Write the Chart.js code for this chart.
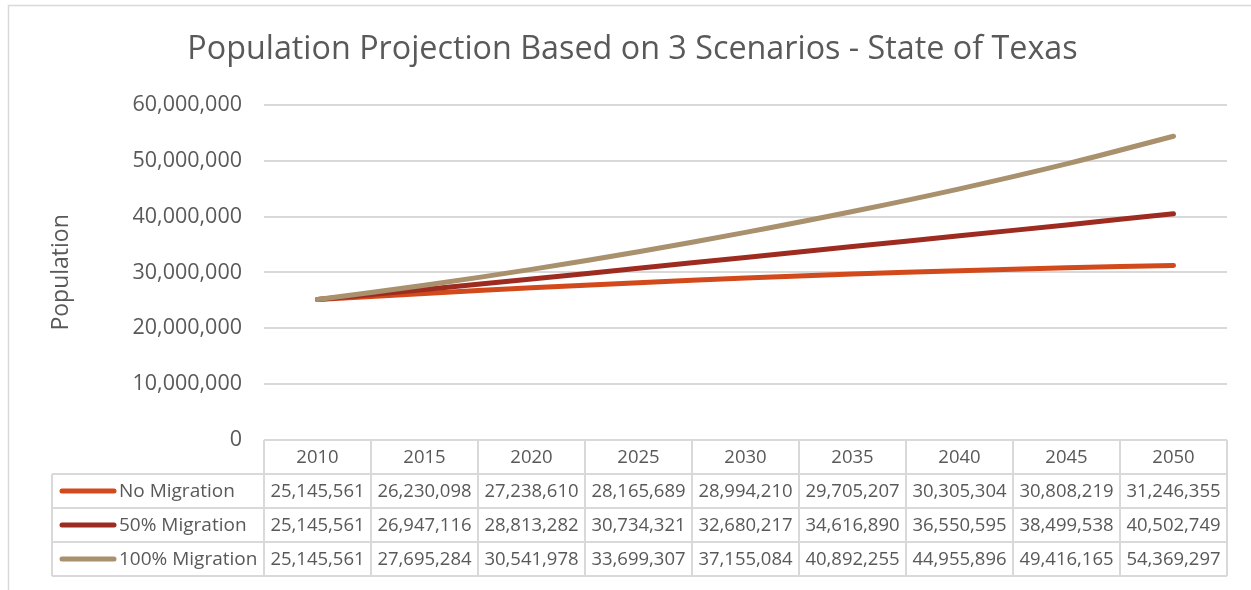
<!DOCTYPE html>
<html>
<head>
<meta charset="utf-8">
<script src="https://cdn.jsdelivr.net/npm/chart.js@4.4.0/dist/chart.umd.min.js"></script>
<style>
  html, body { margin: 0; padding: 0; background: #fff; }
  #wrap { position: relative; width: 1251px; height: 590px; }
</style>
</head>
<body>
<div id="wrap"><canvas id="popChart" width="1251" height="590"></canvas></div>
<script>
// Chart data
const years = ['2010', '2015', '2020', '2025', '2030', '2035', '2040', '2045', '2050'];
const noMigration = [25145561, 26230098, 27238610, 28165689, 28994210, 29705207, 30305304, 30808219, 31246355];
const halfMigration = [25145561, 26947116, 28813282, 30734321, 32680217, 34616890, 36550595, 38499538, 40502749];
const fullMigration = [25145561, 27695284, 30541978, 33699307, 37155084, 40892255, 44955896, 49416165, 54369297];
const seriesNames = ['No Migration', '50% Migration', '100% Migration'];
const yTicks = [0, 10000000, 20000000, 30000000, 40000000, 50000000, 60000000];

const textColor = '#595959';
const gridColor = '#d9d9d9';
const fontFamily = '"Open Sans", sans-serif';
const seriesColors = ['#d24a1b', '#9e2b20', '#a8916c'];

function fmt(n) {
  return n.toLocaleString('en-US');
}

// Center the title over the whole frame instead of the padded box
const titleShiftPlugin = {
  id: 'titleShift',
  afterLayout(chart) {
    if (chart.titleBlock) {
      chart.titleBlock.left += 19;
      chart.titleBlock.right += 19;
    }
  }
};

/**
 * Draws the frame and the data table under the plot
 */
const dataTablePlugin = {
  id: 'dataTable',
  afterDraw(chart) {
    const ctx = chart.ctx;
    const xScale = chart.scales.x;
    const area = chart.chartArea;
    const rowH = 34;
    const legendLeft = 52;
    const half = (xScale.getPixelForValue(1) - xScale.getPixelForValue(0)) / 2;
    const rows = [noMigration, halfMigration, fullMigration];

    ctx.save();
    // outer frame
    ctx.strokeStyle = '#d9d9d9';
    ctx.lineWidth = 1.5;
    ctx.strokeRect(8.5, 5.5, 1260, 600);

    ctx.strokeStyle = gridColor;
    ctx.lineWidth = 2;
    const top = area.bottom;
    const bottom = top + rowH * 4;

    ctx.beginPath();
    ctx.moveTo(area.left, top);
    ctx.lineTo(area.right, top);
    for (let r = 1; r <= 4; r++) {
      ctx.moveTo(legendLeft, top + rowH * r);
      ctx.lineTo(area.right, top + rowH * r);
    }
    ctx.moveTo(legendLeft, top + rowH);
    ctx.lineTo(legendLeft, bottom);
    for (let i = 0; i < years.length; i++) {
      const x = xScale.getPixelForValue(i) - half;
      ctx.moveTo(x, top);
      ctx.lineTo(x, bottom);
    }
    ctx.moveTo(area.right, top);
    ctx.lineTo(area.right, bottom);
    ctx.stroke();

    ctx.fillStyle = textColor;
    ctx.font = '18.5px ' + fontFamily;
    ctx.textAlign = 'center';
    ctx.textBaseline = 'middle';
    years.forEach((y, i) => {
      ctx.fillText(y, xScale.getPixelForValue(i), top + rowH / 2 + 1);
    });
    rows.forEach((vals, r) => {
      const cy = top + rowH * (r + 1) + rowH / 2 + 1;
      vals.forEach((v, i) => {
        ctx.fillText(fmt(v), xScale.getPixelForValue(i), cy);
      });
    });

    // legend keys
    ctx.textAlign = 'left';
    ctx.font = '19px ' + fontFamily;
    seriesNames.forEach((name, r) => {
      const cy = top + rowH * (r + 1) + rowH / 2;
      ctx.strokeStyle = seriesColors[r];
      ctx.lineWidth = 5;
      ctx.lineCap = 'round';
      ctx.beginPath();
      ctx.moveTo(62, cy);
      ctx.lineTo(114, cy);
      ctx.stroke();
      ctx.fillText(name, 119, cy + 1);
    });
    ctx.restore();
  }
};

const ctx = document.getElementById('popChart').getContext('2d');
const popChart = new Chart(ctx, {
  type: 'line',
  data: {
    labels: years,
    datasets: [
      { label: seriesNames[0], data: noMigration, borderColor: seriesColors[0], order: 2 },
      { label: seriesNames[1], data: halfMigration, borderColor: seriesColors[1], order: 1 },
      { label: seriesNames[2], data: fullMigration, borderColor: seriesColors[2], order: 0 }
    ]
  },
  options: {
    responsive: false,
    animation: false,
    layout: {
      padding: { left: 0, right: 24, top: 0, bottom: 150 }
    },
    elements: {
      line: { borderWidth: 5, tension: 0.4, borderCapStyle: 'round', fill: false },
      point: { radius: 0 }
    },
    plugins: {
      legend: { display: false },
      tooltip: { enabled: false },
      title: {
        display: true,
        text: 'Population Projection Based on 3 Scenarios - State of Texas',
        color: textColor,
        font: { family: fontFamily, size: 32.3, weight: 'normal' },
        padding: { top: 30, bottom: 36 }
      }
    },
    scales: {
      x: {
        display: false,
        offset: true
      },
      y: {
        min: 0,
        max: 60000000,
        afterBuildTicks: axis => {
          axis.ticks = yTicks.map(v => ({ value: v }));
        },
        afterFit: axis => {
          axis.width = 264;
        },
        border: { display: false },
        grid: {
          color: ctx => (ctx.tick && ctx.tick.value === 0 ? 'rgba(0,0,0,0)' : gridColor),
          lineWidth: 2,
          drawTicks: false
        },
        ticks: {
          color: textColor,
          padding: 22,
          font: { family: fontFamily, size: 21.5 },
          callback: v => fmt(v)
        },
        title: {
          display: true,
          text: 'Population',
          color: textColor,
          font: { family: fontFamily, size: 23 },
          padding: { top: 48, bottom: 0 }
        }
      }
    }
  },
  plugins: [titleShiftPlugin, dataTablePlugin]
});
</script>
</body>
</html>
